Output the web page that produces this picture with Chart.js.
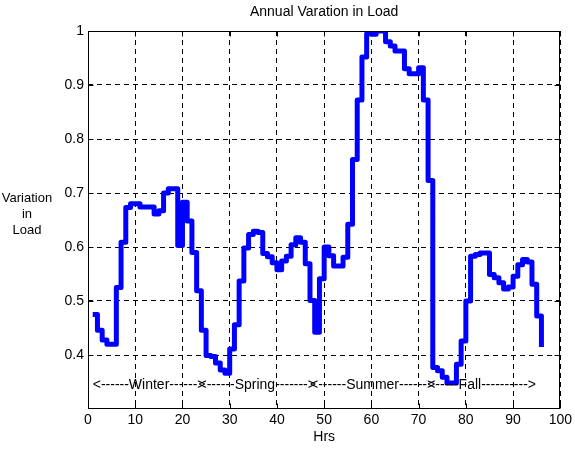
<!DOCTYPE html>
<html>
<head>
<meta charset="utf-8">
<title>Annual Varation in Load</title>
<script src="https://cdn.jsdelivr.net/npm/chart.js@4.4.1/dist/chart.umd.min.js"></script>
<style>
  html, body { margin: 0; padding: 0; background: #fff; }
  #wrap { width: 575px; height: 449px; }
</style>
</head>
<body>
<div id="wrap"><canvas id="loadChart" width="575" height="449"></canvas></div>
<script>
// load per hour, 24 hours for each season (winter, spring, summer, fall)
const loadValues = [
    0.475, 0.446, 0.428, 0.420, 0.420, 0.525, 0.609, 0.673, 0.680, 0.680, 0.674, 0.674,
    0.674, 0.661, 0.667, 0.700, 0.708, 0.708, 0.603, 0.683, 0.648, 0.590, 0.519, 0.446,
    0.399, 0.397, 0.385, 0.372, 0.366, 0.411, 0.456, 0.537, 0.598, 0.623, 0.629, 0.627,
    0.588, 0.582, 0.571, 0.558, 0.574, 0.583, 0.604, 0.617, 0.609, 0.569, 0.501, 0.442,
    0.541, 0.600, 0.584, 0.565, 0.565, 0.581, 0.642, 0.762, 0.872, 0.952, 0.995, 0.994,
    1.000, 1.000, 0.980, 0.972, 0.963, 0.963, 0.930, 0.921, 0.921, 0.932, 0.872, 0.723,
    0.377, 0.371, 0.359, 0.348, 0.348, 0.383, 0.426, 0.500, 0.583, 0.586, 0.589, 0.589,
    0.549, 0.543, 0.534, 0.522, 0.526, 0.546, 0.567, 0.577, 0.572, 0.531, 0.472, 0.415
];
// hour index 1..96
const hours = loadValues.map((v, i) => i + 1);

const xTicks = [0, 10, 20, 30, 40, 50, 60, 70, 80, 90, 100];
const yTicks = [0.4, 0.5, 0.6, 0.7, 0.8, 0.9, 1];

// season markers written inside the plot
const seasonLabels = ["<------Winter------>", "<------Spring------->", "<------Summer------>", "<-----Fall---------->"];
const seasonStart = [1, 23.4, 47, 71.8];
const seasonLevel = 0.345;

const FONT = '"Liberation Sans", Arial, Helvetica, sans-serif';

// box, inward ticks and the texts matlab puts around the axes
const matlabAxes = {
    id: "matlabAxes",
    afterDraw(chart) {
        const { ctx, chartArea: a, scales } = chart;
        const xs = scales.x, ys = scales.y;
        const L = Math.round(a.left) + 0.5, R = Math.round(a.right) - 0.5;
        const T = Math.round(a.top) + 0.5, B = Math.round(a.bottom) - 0.5;
        ctx.save();
        ctx.strokeStyle = "#000";
        ctx.lineWidth = 1;
        ctx.setLineDash([]);
        ctx.strokeRect(L, T, R - L, B - T);

        ctx.beginPath();
        xTicks.forEach(v => {
            const px = Math.round(xs.getPixelForValue(v)) + 0.5;
            ctx.moveTo(px, B); ctx.lineTo(px, B - 5);
            ctx.moveTo(px, T); ctx.lineTo(px, T + 5);
        });
        yTicks.forEach(v => {
            const py = Math.round(ys.getPixelForValue(v)) + 0.5;
            ctx.moveTo(L, py); ctx.lineTo(L + 5, py);
            ctx.moveTo(R, py); ctx.lineTo(R - 5, py);
        });
        ctx.stroke();

        ctx.fillStyle = "#000";
        ctx.font = "14px " + FONT;
        ctx.textBaseline = "middle";
        ctx.textAlign = "left";
        seasonLabels.forEach((txt, i) => {
            ctx.fillText(txt, xs.getPixelForValue(seasonStart[i]), ys.getPixelForValue(seasonLevel));
        });

        const midX = (a.left + a.right) / 2;
        const midY = (a.top + a.bottom) / 2;
        ctx.textAlign = "center";
        ctx.fillText("Annual Varation in Load", midX, a.top - 19);
        ctx.fillText("Hrs", midX, a.bottom + 28);
        // y label is stacked, not rotated
        ctx.font = "13px " + FONT;
        ["Variation", "in", "Load"].forEach((line, i) => {
            ctx.fillText(line, 27, midY - 22 + i * 16);
        });
        ctx.restore();
    }
};

const ctx = document.getElementById("loadChart").getContext("2d");
new Chart(ctx, {
    type: "line",
    data: {
        datasets: [{
            data: hours.map((h, i) => ({ x: h, y: loadValues[i] })),
            borderColor: "#0000ff",
            borderWidth: 5,
            borderJoinStyle: "round",
            stepped: "before",
            pointRadius: 0,
            fill: false,
            clip: 0
        }]
    },
    options: {
        responsive: false,
        animation: false,
        devicePixelRatio: 1,
        layout: { padding: { left: 0, right: 13, top: 31, bottom: 0 } },
        plugins: {
            legend: { display: false },
            tooltip: { enabled: false },
            title: { display: false }
        },
        scales: {
            x: {
                type: "linear",
                min: 0,
                max: 100,
                afterBuildTicks: s => { s.ticks = xTicks.map(v => ({ value: v })); },
                afterFit: s => { s.height = 40; },
                grid: { color: "#000", lineWidth: 1, drawTicks: false },
                border: { display: false, dash: [5, 4] },
                ticks: { color: "#000", font: { family: FONT, size: 14 }, padding: 3, maxRotation: 0 }
            },
            y: {
                type: "linear",
                min: 0.3,
                max: 1,
                afterBuildTicks: s => { s.ticks = yTicks.map(v => ({ value: v })); },
                afterFit: s => { s.width = 88; },
                grid: { color: "#000", lineWidth: 1, drawTicks: false },
                border: { display: false, dash: [5, 4] },
                ticks: { color: "#000", font: { family: FONT, size: 14 }, padding: 4, callback: v => String(v) }
            }
        }
    },
    plugins: [matlabAxes]
});
</script>
</body>
</html>
